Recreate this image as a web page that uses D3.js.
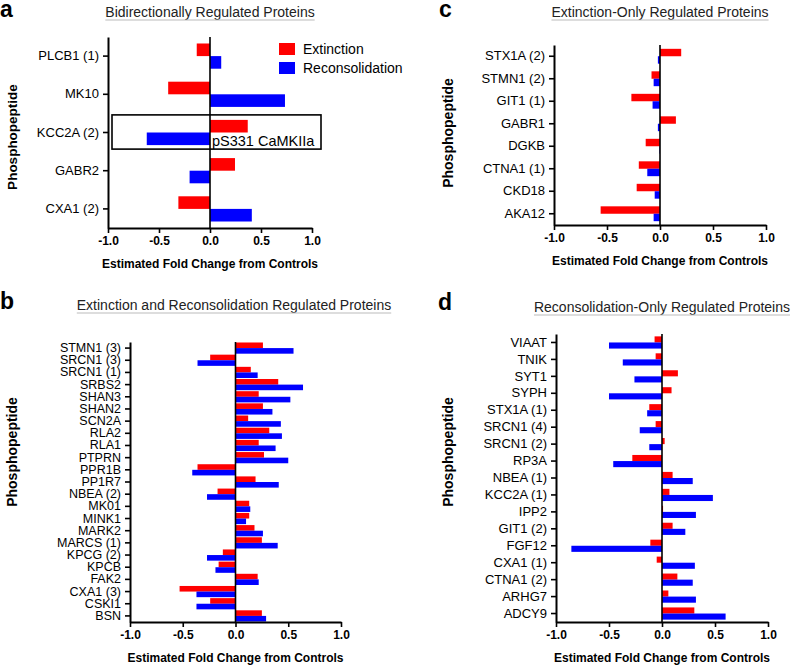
<!DOCTYPE html>
<html><head><meta charset="utf-8">
<script src="https://cdn.jsdelivr.net/npm/d3@7"></script>
<style>
body{margin:0;background:#fff;}
svg{font-family:"Liberation Sans",Arial,Helvetica,sans-serif;}
</style></head>
<body><svg id="chart" width="800" height="667"></svg>
<script>
// ---- data ----
const xTicks = [-1.0, -0.5, 0.0, 0.5, 1.0];
const seriesNames = ["Extinction", "Reconsolidation"];
const seriesColors = ["#ff0000", "#0000ff"];

const catsA = ["PLCB1 (1)", "MK10", "KCC2A (2)", "GABR2", "CXA1 (2)"];
const extA  = [-0.13, -0.41, 0.37, 0.245, -0.31];
const recA  = [0.11, 0.735, -0.62, -0.2, 0.41];

const catsB = ["STMN1 (3)", "SRCN1 (3)", "SRCN1 (1)", "SRBS2", "SHAN3", "SHAN2", "SCN2A", "RLA2", "RLA1", "PTPRN", "PPR1B", "PP1R7", "NBEA (2)", "MK01", "MINK1", "MARK2", "MARCS (1)", "KPCG (2)", "KPCB", "FAK2", "CXA1 (3)", "CSKI1", "BSN"];
const extB  = [0.26, -0.24, 0.145, 0.405, 0.22, 0.26, 0.12, 0.32, 0.22, 0.27, -0.36, 0.19, -0.17, 0.13, 0.13, 0.18, 0.25, -0.12, -0.16, 0.21, -0.53, -0.24, 0.25];
const recB  = [0.55, -0.36, 0.21, 0.64, 0.52, 0.35, 0.43, 0.44, 0.38, 0.5, -0.41, 0.41, -0.27, 0.14, 0.10, 0.26, 0.40, -0.27, -0.19, 0.22, -0.37, -0.37, 0.29];

const catsC = ["STX1A (2)", "STMN1 (2)", "GIT1 (1)", "GABR1", "DGKB", "CTNA1 (1)", "CKD18", "AKA12"];
const extC  = [0.2, -0.08, -0.27, 0.15, -0.135, -0.2, -0.22, -0.56];
const recC  = [-0.02, -0.06, -0.07, -0.02, -0.005, -0.12, -0.05, -0.06];

const catsD = ["VIAAT", "TNIK", "SYT1", "SYPH", "STX1A (1)", "SRCN1 (4)", "SRCN1 (2)", "RP3A", "NBEA (1)", "KCC2A (1)", "IPP2", "GIT1 (2)", "FGF12", "CXA1 (1)", "CTNA1 (2)", "ARHG7", "ADCY9"];
const extD  = [-0.07, -0.06, 0.15, 0.09, -0.12, -0.06, 0.025, -0.28, 0.1, 0.07, 0.01, 0.1, -0.11, -0.05, 0.145, 0.06, 0.305];
const recD  = [-0.5, -0.37, -0.26, -0.5, -0.14, -0.21, -0.12, -0.46, 0.29, 0.48, 0.32, 0.22, -0.855, 0.31, 0.29, 0.32, 0.6];

const svg = d3.select("#chart");
const fmt = d => d.toFixed(1);

function panel(o) {
  const g = svg.append("g");
  const x = d3.scaleLinear().domain([-1, 1]).range([o.x0, o.x1]);
  const y = d3.scaleBand().domain(o.cats).range([o.y0, o.y1]).paddingInner(o.pad).paddingOuter(o.pad / 2);
  const ys = d3.scaleBand().domain([0, 1]).range([0, y.bandwidth()]);
  const vals = [o.ext, o.rec];

  // bars
  [0, 1].forEach(s => {
    g.append("g").selectAll("rect").data(o.cats).join("rect")
      .attr("x", (c, i) => x(Math.min(0, vals[s][i])))
      .attr("width", (c, i) => Math.abs(x(vals[s][i]) - x(0)))
      .attr("y", c => y(c) + ys(s))
      .attr("height", ys.bandwidth())
      .attr("fill", seriesColors[s]);
  });

  // zero line
  g.append("line").attr("x1", x(0)).attr("x2", x(0)).attr("y1", o.y0).attr("y2", o.y1)
    .attr("stroke", "#000").attr("stroke-width", 1.6);

  // y axis
  const ya = g.append("g").attr("transform", `translate(${o.x0},0)`)
    .call(d3.axisLeft(y).tickSize(5).tickSizeOuter(0).tickPadding(4));
  ya.select(".domain").attr("stroke-width", 2);
  ya.selectAll(".tick line").attr("stroke-width", 1.6);
  ya.selectAll("text").attr("font-size", o.catSize).attr("fill", "#000")
    .attr("font-family", "'Liberation Sans',Arial,sans-serif");

  // x axis
  const xa = g.append("g").attr("transform", `translate(0,${o.y1})`)
    .call(d3.axisBottom(x).tickValues(xTicks).tickFormat(fmt).tickSize(5).tickSizeOuter(0).tickPadding(3));
  xa.select(".domain").attr("stroke-width", 2);
  xa.selectAll(".tick line").attr("stroke-width", 1.6);
  xa.selectAll("text").attr("font-size", 12).attr("font-weight", "bold").attr("fill", "#000")
    .attr("font-family", "'Liberation Sans',Arial,sans-serif");

  // x axis title
  g.append("text").attr("x", (o.x0 + o.x1) / 2).attr("y", o.y1 + 40).attr("text-anchor", "middle")
    .attr("font-size", 12).attr("font-weight", "bold").text("Estimated Fold Change from Controls");

  // y axis title
  g.append("text").attr("transform", `translate(${o.ytx},${o.yty}) rotate(-90)`)
    .attr("text-anchor", "middle").attr("font-size", o.ytsize).attr("font-weight", "bold").text("Phosphopeptide");

  // title with underline
  const t = g.append("text").attr("x", o.tx).attr("y", o.ty).attr("text-anchor", "middle")
    .attr("font-size", 14).attr("fill", "#222").text(o.title);
  const w = t.node().getComputedTextLength();
  g.append("line").attr("x1", o.tx - w / 2).attr("x2", o.tx + w / 2).attr("y1", o.ty + 3).attr("y2", o.ty + 3)
    .attr("stroke", "#bbb").attr("stroke-width", 1);

  // panel letter
  g.append("text").attr("x", o.lx).attr("y", o.ly).attr("font-size", 23).attr("font-weight", "bold").text(o.letter);
  return {g, x, y};
}

const A = panel({cats: catsA, ext: extA, rec: recA, x0: 108, x1: 312, y0: 37, y1: 228, pad: 0.34, catSize: 13,
  title: "Bidirectionally Regulated Proteins", tx: 210, ty: 17, letter: "a", lx: 0, ly: 17,
  ytx: 17, yty: 137, ytsize: 13.5});
const B = panel({cats: catsB, ext: extB, rec: recB, x0: 130, x1: 341, y0: 342, y1: 622, pad: 0.08, catSize: 12.5,
  title: "Extinction and Reconsolidation Regulated Proteins", tx: 234, ty: 310, letter: "b", lx: 0, ly: 309,
  ytx: 17, yty: 452, ytsize: 14});
const C = panel({cats: catsC, ext: extC, rec: recC, x0: 554, x1: 766, y0: 45, y1: 225, pad: 0.34, catSize: 13,
  title: "Extinction-Only Regulated Proteins", tx: 660, ty: 17, letter: "c", lx: 439, ly: 17,
  ytx: 453, yty: 133, ytsize: 14});
const D = panel({cats: catsD, ext: extD, rec: recD, x0: 556, x1: 768, y0: 334, y1: 622, pad: 0.28, catSize: 13,
  title: "Reconsolidation-Only Regulated Proteins", tx: 662, ty: 312, letter: "d", lx: 438, ly: 310,
  ytx: 453, yty: 452, ytsize: 14});

// legend (panel a)
const leg = A.g.append("g");
seriesNames.forEach((n, i) => {
  leg.append("rect").attr("x", 279).attr("y", 43 + i * 19).attr("width", 16).attr("height", 12).attr("fill", seriesColors[i]);
  leg.append("text").attr("x", 303).attr("y", 54 + i * 19).attr("font-size", 14).text(n);
});

// highlight box around KCC2A (2)
const yb = A.y("KCC2A (2)");
A.g.append("rect").attr("x", 112).attr("y", yb - 5).attr("width", 209).attr("height", A.y.bandwidth() + 9)
  .attr("fill", "none").attr("stroke", "#000").attr("stroke-width", 1.6);
A.g.append("text").attr("x", A.x(0) + 2).attr("y", yb + A.y.bandwidth() + 1).attr("font-size", 14.5).text("pS331 CaMKIIa");
</script></body></html>
